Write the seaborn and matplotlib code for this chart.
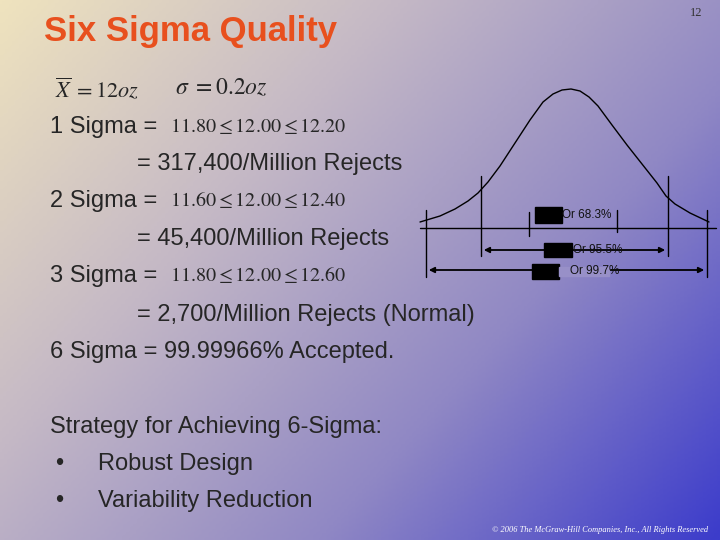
import numpy as np
import matplotlib
matplotlib.use("Agg")
import matplotlib.pyplot as plt
import seaborn as sns
from matplotlib.colors import LinearSegmentedColormap

sns.set_theme(style="white")
plt.rcParams['font.family'] = ['Liberation Sans', 'DejaVu Sans']
plt.rcParams['mathtext.fontset'] = 'stix'

# Curve outline (pixel coordinates of the slide)
curve_x = [420, 440, 455, 468, 478, 488, 500, 515, 530, 543, 553, 562, 571, 580, 589, 598, 612, 627, 642, 657, 666, 675, 690, 709]
curve_y = [222, 216, 209, 201, 193, 182, 166, 143, 120, 102, 94, 90, 89, 91, 97, 106, 125, 145, 164, 183, 196, 204, 213, 222]
band_labels = ["Or 68.3%", "Or 95.5%", "Or 99.7%"]

fig = plt.figure(figsize=(7.2, 5.4), dpi=100)
ax = fig.add_axes([0, 0, 1, 1])
ax.set_xlim(0, 720); ax.set_ylim(540, 0); ax.axis('off')

yy, xx = np.mgrid[0:1:200j, 0:1:200j]
g = (xx * 0.6 + yy * 0.4)
cmap = LinearSegmentedColormap.from_list('bg', ['#EFE3BE', '#C4B8C6', '#9088C4', '#3C3CCB'])
ax.imshow(g, extent=[0, 720, 540, 0], cmap=cmap, aspect='auto', zorder=0)

sns.lineplot(x=curve_x, y=curve_y, ax=ax, color='black', lw=1, sort=False, zorder=3)
ax.plot([420, 716], [228, 228], color='black', lw=1)
for x, y0, y1 in [(426, 210, 277), (481, 176, 256), (529, 212, 236), (617, 210, 232), (668, 176, 256), (707, 210, 277)]:
    ax.plot([x, x], [y0, y1], color='black', lw=1)
for (x0, x1, y) in [(481, 668, 250), (426, 707, 270)]:
    ax.annotate('', xy=(x0, y), xytext=(x1, y), arrowprops=dict(arrowstyle='<|-|>', color='black', lw=1.3, mutation_scale=8))
for (bx, by, w, h), lab, tx, gap in zip([(535, 207, 27, 16), (544, 243, 28, 14), (532, 264, 27, 15)], band_labels,
                                         [562, 573, 570], [0, 0, 50]):
    ax.add_patch(plt.Rectangle((bx, by), w, h, color='black', zorder=4))
    if gap:
        ax.add_patch(plt.Rectangle((bx + w, by + 3), gap, h - 6, color='#9890C8', zorder=4))
    ax.text(tx, by + h / 2, lab, fontsize=8.5, va='center', ha='left', color='#111111', zorder=5)

ax.text(44, 32, "Six Sigma Quality", fontsize=25, fontweight='bold', color='#E8501E', va='center')
ax.text(690, 13, "12", fontsize=9, family='Liberation Serif', color='#333333', va='center')

ax.text(55, 89, r"$\overline{X}\;=12oz$", fontsize=16, va='center')
ax.text(175, 88, r"$\sigma\ =0.2oz$", fontsize=17, va='center')

body = 17
rows = [
    (50, 127, "1 Sigma =", r"$\mathrm{11.80\leq 12.00\leq 12.20}$"),
    (50, 201, "2 Sigma =", r"$\mathrm{11.60\leq 12.00\leq 12.40}$"),
    (50, 276, "3 Sigma =", r"$\mathrm{11.80\leq 12.00\leq 12.60}$"),
]
for x, y, lab, m in rows:
    ax.text(x, y, lab, fontsize=body, va='center')
    ax.text(170, y - 1, m, fontsize=14.5, va='center')
ax.text(137, 164, "= 317,400/Million Rejects", fontsize=body, va='center')
ax.text(137, 239, "= 45,400/Million Rejects", fontsize=body, va='center')
ax.text(137, 315, "= 2,700/Million Rejects (Normal)", fontsize=body, va='center')
ax.text(50, 352, "6 Sigma = 99.99966% Accepted.", fontsize=body, va='center')
ax.text(50, 427, "Strategy for Achieving 6-Sigma:", fontsize=body, va='center')
ax.text(55, 464, "•", fontsize=body, va='center')
ax.text(98, 464, "Robust Design", fontsize=body, va='center')
ax.text(55, 501, "•", fontsize=body, va='center')
ax.text(98, 501, "Variability Reduction", fontsize=body, va='center')
ax.text(708, 530, "© 2006 The McGraw-Hill Companies, Inc., All Rights Reserved", fontsize=6,
        family='Liberation Serif', style='italic', color='white', ha='right', va='center')

fig.savefig("out.png", dpi=100)
